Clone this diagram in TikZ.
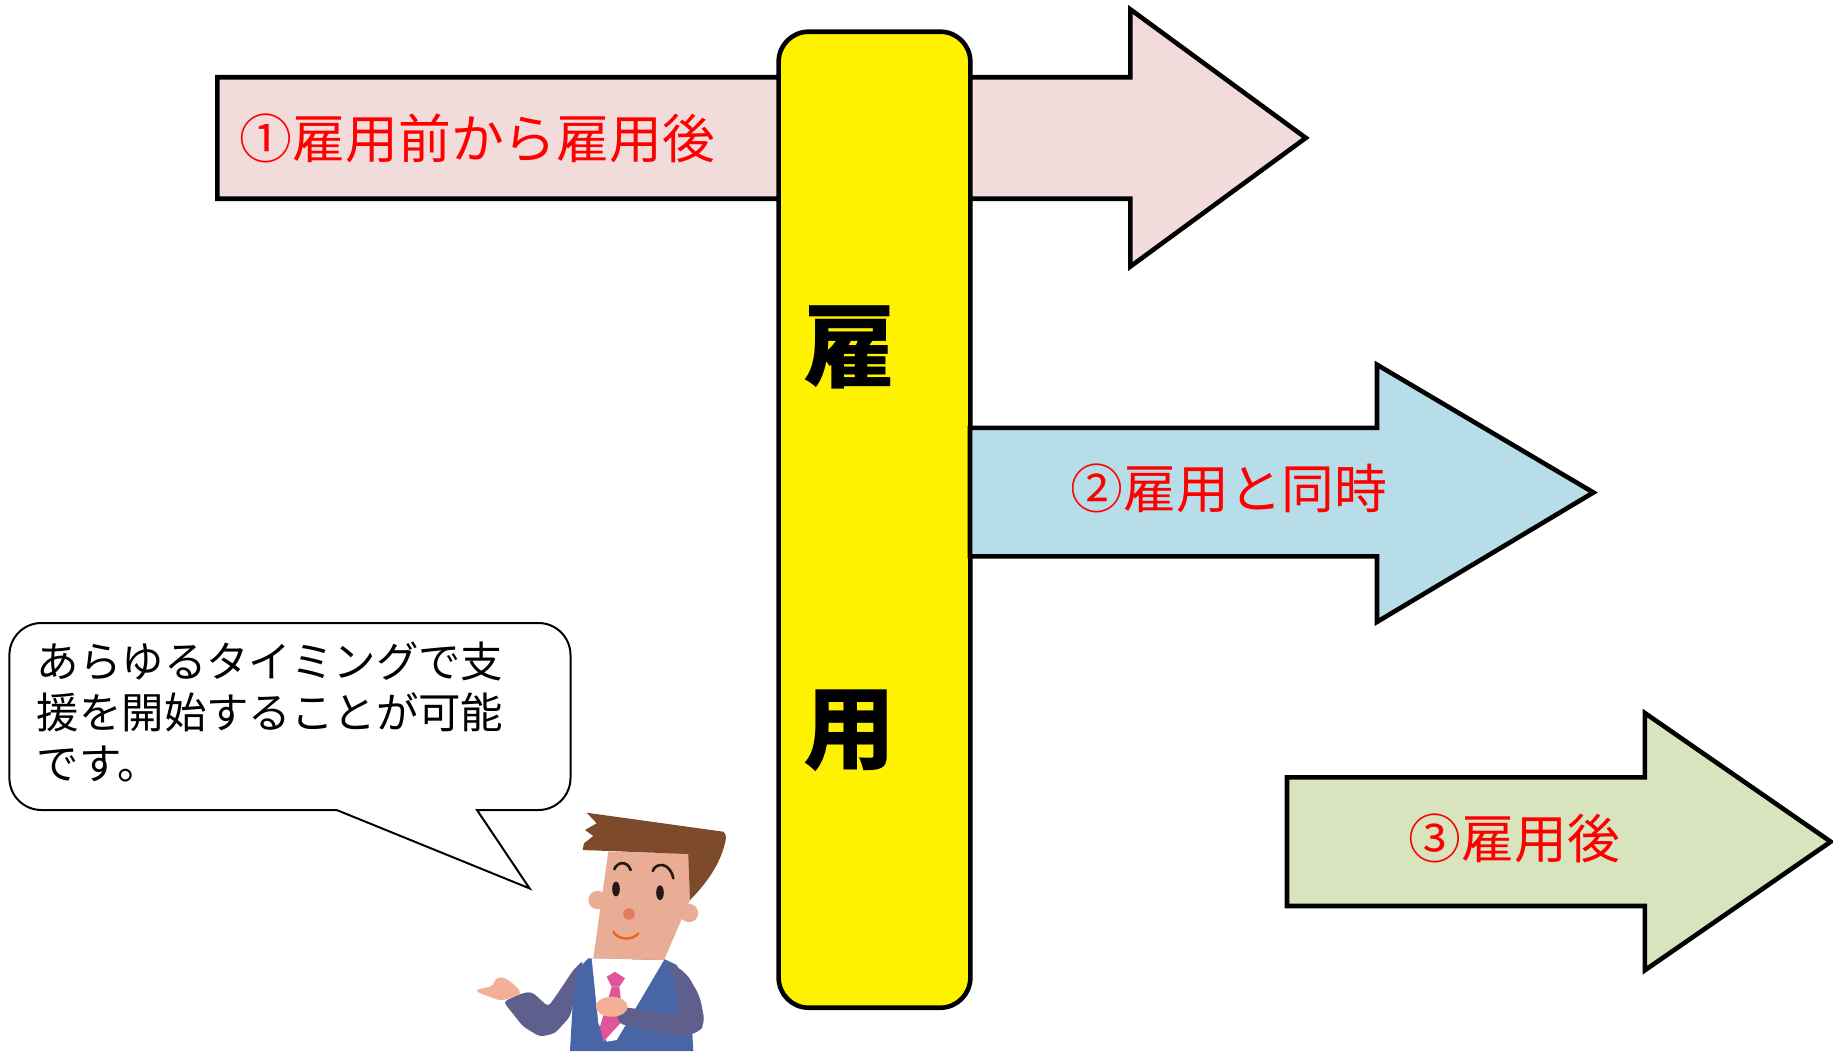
\documentclass[tikz,border=0pt]{standalone}
\usepackage{fontspec}
\setmainfont{Noto Sans CJK JP}
\definecolor{pinkfill}{HTML}{F2DCDB}
\definecolor{bluefill}{HTML}{B7DEE8}
\definecolor{greenfill}{HTML}{D7E4BD}
\definecolor{hair}{HTML}{7D4A2C}
\definecolor{skin}{HTML}{E9AC94}
\definecolor{handskin}{HTML}{F2B196}
\definecolor{jacket}{HTML}{4866A6}
\definecolor{sleeve}{HTML}{5F5F8E}
\definecolor{tie}{HTML}{E0559A}
\definecolor{nose}{HTML}{E57A5E}
\definecolor{mouth}{HTML}{E8651A}
\definecolor{eye}{HTML}{231815}
\begin{document}
\begin{tikzpicture}[x=0.5pt,y=-0.5pt,
  bigarrow/.style={draw=black,line width=2.3pt,line join=miter},
  arrowtext/.style={text=red,inner sep=0pt,font=\fontsize{26.4pt}{30pt}\selectfont},
  bartext/.style={inner sep=0pt,font=\fontsize{46pt}{50pt}\selectfont\bfseries},
  bubbletext/.style={anchor=base west,inner sep=0pt,font=\fontsize{21.2pt}{25pt}\selectfont}]
\useasboundingbox (0,0) rectangle (1833,1051);

% arrow 1: before and after hiring
\draw[bigarrow,fill=pinkfill] (217.4,77.2) -- (1130.4,77.2) -- (1130.4,9.4) -- (1305.8,137.9)
  -- (1130.4,266.5) -- (1130.4,198.7) -- (217.4,198.7) -- cycle;
\node[arrowtext] (t1) at (477.5,138) {①雇用前から雇用後};

% hiring bar
\node[draw=black,line width=2.3pt,fill=yellow,rounded corners=15pt,
  minimum width=95.85pt,minimum height=488pt,inner sep=0pt] (bar) at (874.5,519.7) {};
\node[bartext] (k1) at (849.3,347.2) {雇};
\node[bartext] (k2) at (849.3,730.6) {用};

% arrow 2: at the time of hiring
\draw[bigarrow,fill=bluefill] (970,427.9) -- (1377,427.9) -- (1377,364.7) -- (1593.4,492.5)
  -- (1377,621.9) -- (1377,556.4) -- (970,556.4) -- cycle;
\node[arrowtext] (t2) at (1229,488.6) {②雇用と同時};

% arrow 3: after hiring
\draw[bigarrow,fill=greenfill] (1287,777.4) -- (1644.8,777.4) -- (1644.8,713) -- (1830.7,841.7)
  -- (1644.8,970.3) -- (1644.8,906) -- (1287,906) -- cycle;
\node[arrowtext] (t3) at (1514.5,838) {③雇用後};

% speech bubble
\draw[line width=1pt,fill=white] (41.4,623) -- (538.5,623) arc[start angle=-90,end angle=0,radius=32]
  -- (570.5,778) arc[start angle=0,end angle=90,radius=32]
  -- (477,810) -- (529.6,888.4) -- (336.7,810)
  -- (41.4,810) arc[start angle=90,end angle=180,radius=32]
  -- (9.4,655) arc[start angle=180,end angle=270,radius=32] -- cycle;
\node[bubbletext] (b1) at (36.5,677.8) {あらゆるタイミングで支};
\node[bubbletext] (b2) at (36.5,728.7) {援を開始することが可能};
\node[bubbletext] (b3) at (36.5,779.6) {です。};

% presenter figure: left arm and hand
\fill[sleeve,rounded corners=2pt] (583.3,960) -- (573.3,970) -- (560,990) -- (548.3,1006.7)
  -- (531.7,991.7) -- (521.7,993.3) -- (503.3,1001.7) -- (523.3,1026.7) -- (540,1036.7)
  -- (555,1033.3) -- (570,1016.7) -- (576.7,990) -- cycle;
\fill[handskin,rounded corners=2pt] (475,990) -- (493.3,986) -- (495,978.3) -- (503.3,976.7)
  -- (515,985) -- (521.7,993.3) -- (510,998.3) -- (500,1000.7) -- (480,993.3) -- cycle;
% jacket, shirt and tie
\fill[jacket] (570,1051) -- (572.7,1003.3) -- (577.3,970) -- (588.3,958.3) -- (665,959.3)
  -- (676.7,965) -- (690,990) -- (693.3,1051) -- cycle;
\fill[white] (591.7,958.3) -- (664,960) -- (616.7,1040) -- (606.7,1041.7) -- (598.3,1023) -- cycle;
\fill[tie] (611.7,986.7) -- (619.3,986.7) -- (623.3,1020) -- (603.3,1041.7) -- (600,1026.7) -- cycle;
\fill[tie] (606.7,976.7) -- (615,971.7) -- (625,978.3) -- (619.3,986.7) -- (611.7,986.7) -- cycle;
% right arm and hand
\fill[sleeve,rounded corners=4pt] (666.7,960.7) -- (686.7,973.3) -- (700,996.7) -- (705,1023.3)
  -- (698.3,1033.3) -- (676.7,1036) -- (646.7,1030) -- (616.7,1023.3) -- (618.3,1006.7)
  -- (646.7,1010) -- (673.3,1016.7) -- (680,1006.7) -- (673.3,976.7) -- cycle;
\fill[handskin] (611.7,1006.7) ellipse[x radius=8pt,y radius=5pt];
% head
\fill[skin] (597.5,900) circle[radius=4.6pt];
\fill[skin] (689,913) circle[radius=4.6pt];
\fill[skin] (608.3,851.7) -- (690,853.3) -- (690,900) -- (664,960) -- (593.3,958.3) -- cycle;
\fill[hair] (586.7,812.7) -- (723.3,831.7) .. controls (727,834) and (726,840) .. (725,843)
  .. controls (720,865) and (705,885) .. (690,900) -- (688.3,854) -- (582.7,850)
  -- (584,843.3) -- (593.3,836) -- (585,830) -- (596.7,823.3) -- cycle;
\draw[eye,line width=1.3pt,line cap=round] (614.3,869.3) .. controls (617,862) and (627,860) .. (630.7,870);
\draw[eye,line width=1.3pt,line cap=round] (652.7,871) .. controls (656,862) and (670,862) .. (673.3,878.3);
\fill[eye] (616,889) ellipse[x radius=1.9pt,y radius=3.7pt];
\fill[eye] (660,892.7) ellipse[x radius=1.9pt,y radius=3.7pt];
\fill[nose] (629,914) circle[radius=2.9pt];
\draw[mouth,line width=1.2pt,line cap=round] (613.3,931.7) .. controls (618,940) and (632,941) .. (638.3,933.3);
\end{tikzpicture}
\end{document}
